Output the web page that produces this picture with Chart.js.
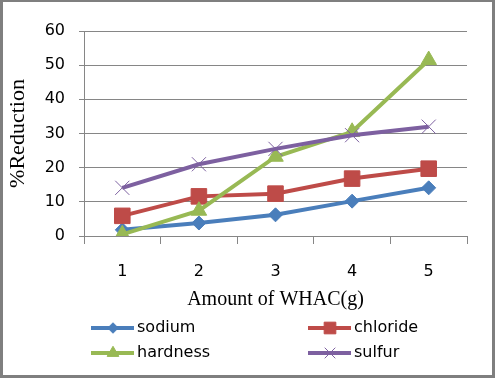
<!DOCTYPE html>
<html>
<head>
<meta charset="utf-8">
<script src="https://cdn.jsdelivr.net/npm/chart.js@4/dist/chart.umd.min.js"></script>
<style>
  html, body { margin: 0; padding: 0; background: #fff; }
  #wrap {
    width: 495px; height: 378px; box-sizing: border-box;
    border-style: solid; border-color: #7f7f7f;
    border-width: 2px 3px 3px 3px;
  }
  canvas { display: block; }
</style>
</head>
<body>
<div id="wrap"><canvas id="chart" width="489" height="373"></canvas></div>
<script>
// ─── DATA ──────────────────────────────────────────────────
const categories = ['1', '2', '3', '4', '5'];
const sodium   = [1.8, 3.8, 6.2, 10.2, 14.1];
const chloride = [5.9, 11.6, 12.4, 16.8, 19.7];
const hardness = [0.5, 7.4, 23.2, 30.5, 51.5];
const sulfur   = [14.1, 21.0, 25.5, 29.5, 32.0];

const GRID = '#868686';

const SERIES = [
  { label: 'sodium',   data: sodium,   color: '#4A7EBB', style: 'rectRot',  radius: 7,  order: 3 },
  { label: 'chloride', data: chloride, color: '#BE4B48', style: 'rect',     radius: 11, order: 2 },
  { label: 'hardness', data: hardness, color: '#98B954', style: 'triangle', radius: 9,  order: 1 },
  { label: 'sulfur',   data: sulfur,   color: '#7D60A0', style: 'crossRot', radius: 10, order: 0 },
];

// legend slots (2 columns x 2 rows), same layout as the original
const LEGEND_POS = [
  { x: 88,  y: 326 }, { x: 305, y: 326 },
  { x: 88,  y: 351 }, { x: 305, y: 351 },
];

const legendPlugin = {
  id: 'lineLegend',
  afterDraw(chart) {
    const ctx = chart.ctx;
    SERIES.forEach((s, i) => {
      const p = LEGEND_POS[i];
      ctx.save();
      ctx.strokeStyle = s.color;
      ctx.lineWidth = 4;
      ctx.beginPath();
      ctx.moveTo(p.x, p.y);
      ctx.lineTo(p.x + 43, p.y);
      ctx.stroke();
      ctx.fillStyle = s.color;
      ctx.lineWidth = s.style === 'crossRot' ? 1 : 1;
      Chart.helpers.drawPoint(ctx, { pointStyle: s.style, radius: s.radius * 0.75, rotation: 0, borderWidth: 1 }, p.x + 22, p.y);
      ctx.fillStyle = '#000';
      ctx.font = '16px "DejaVu Sans"';
      ctx.textBaseline = 'middle';
      ctx.textAlign = 'left';
      ctx.fillText(s.label, p.x + 46, p.y);
      ctx.restore();
    });
  },
};

new Chart(document.getElementById('chart'), {
  type: 'line',
  data: {
    labels: categories,
    datasets: SERIES.map(s => ({
      label: s.label,
      data: s.data,
      order: s.order,
      borderColor: s.color,
      backgroundColor: s.color,
      borderWidth: 4,
      pointStyle: s.style,
      pointRadius: s.radius,
      pointBorderWidth: 1,
      pointBorderColor: s.color,
      pointBackgroundColor: s.color,
      tension: 0,
    })),
  },
  options: {
    responsive: false,
    animation: false,
    layout: { padding: { left: 0, top: 29, right: 25, bottom: 63 } },
    plugins: { legend: { display: false }, tooltip: { enabled: false } },
    scales: {
      x: {
        offset: true,
        afterFit: s => { s.height = 76; },
        grid: { offset: true, drawOnChartArea: false, drawTicks: true, tickLength: 8, color: GRID },
        border: { display: true, color: GRID },
        ticks: { color: '#000', padding: 18, font: { family: 'DejaVu Sans', size: 16 } },
        title: {
          display: true, text: 'Amount of WHAC(g)', color: '#000',
          font: { family: 'Liberation Serif', size: 20 }, padding: { top: 0, bottom: 0 },
        },
      },
      y: {
        min: 0, max: 60,
        afterFit: s => { s.width = 81; },
        grid: { color: GRID, tickLength: 5, drawTicks: true },
        border: { display: true, color: GRID },
        ticks: { stepSize: 10, color: '#000', padding: 14, font: { family: 'DejaVu Sans', size: 16 } },
        title: {
          display: true, text: '%Reduction', color: '#000',
          font: { family: 'Liberation Serif', size: 22 }, padding: { top: 2, bottom: 0 },
        },
      },
    },
  },
  plugins: [legendPlugin],
});
</script>
</body>
</html>
